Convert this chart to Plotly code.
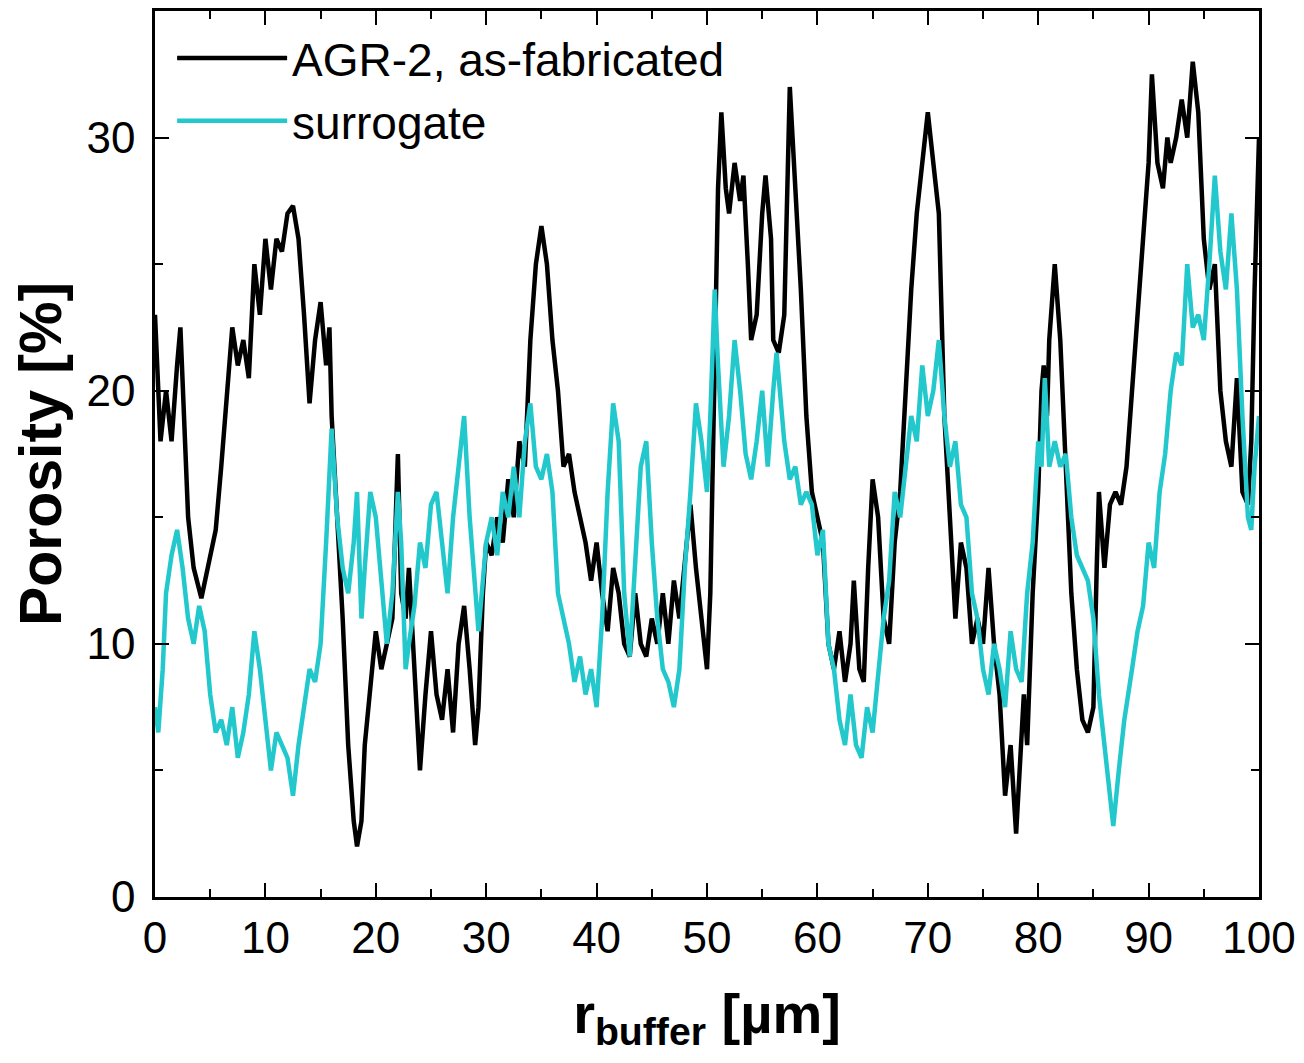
import plotly.graph_objects as go

# AGR-2, as-fabricated (black)
agr_x = [0, 0.5, 1, 1.5, 2, 2.3, 3, 3.5, 4.2, 5, 5.5, 6, 6.5, 7, 7.5, 8, 8.5, 9, 9.5, 10,
         10.5, 11, 11.5, 12, 12.5, 13, 13.5, 14, 14.5, 15, 15.5, 15.8, 16, 16.5, 17, 17.5, 18, 18.3, 18.7, 19,
         19.5, 20, 20.5, 21, 21.5, 22, 22.3, 22.7, 23, 23.5, 24, 24.5, 25, 25.5, 26, 26.5, 27, 27.5, 28, 28.5,
         29, 29.3, 29.7, 30, 30.5, 31, 31.5, 32, 32.5, 33, 33.5, 34, 34.5, 35, 35.5, 36, 36.5, 37, 37.5, 38,
         38.5, 39, 39.5, 40, 40.5, 41, 41.5, 42, 42.5, 43, 43.5, 44, 44.5, 45, 45.5, 46, 46.5, 47, 47.5, 48,
         48.5, 49, 49.5, 50, 50.3, 50.7, 51, 51.3, 51.7, 52, 52.5, 53, 53.3, 53.7, 54, 54.5, 55, 55.3, 55.8, 56,
         56.5, 57, 57.3, 57.5, 58, 58.5, 59, 59.5, 60, 60.5, 61, 61.5, 62, 62.5, 63, 63.3, 63.8, 64.2, 64.6, 65,
         65.5, 66, 66.5, 67, 67.5, 68, 68.5, 69, 69.5, 70, 70.5, 71, 71.5, 72, 72.5, 73, 73.5, 74, 74.5, 75,
         75.5, 76, 76.5, 77, 77.5, 78, 78.3, 78.7, 79, 79.5, 80, 80.3, 80.5, 80.8, 81, 81.5, 82, 82.5, 83, 83.5,
         84, 84.5, 85, 85.3, 85.5, 86, 86.5, 87, 87.5, 88, 88.5, 89, 89.5, 90, 90.3, 90.8, 91.3, 91.7, 92, 92.5,
         93, 93.5, 94, 94.5, 95, 95.5, 96, 96.5, 97, 97.5, 98, 98.5, 99, 99.3, 99.6, 100]
agr_y = [23, 18, 20, 18, 21, 22.5, 15, 13, 11.8, 13.5, 14.5, 17, 20, 22.5, 21, 22, 20.5, 25, 23, 26,
         24, 26, 25.5, 27, 27.3, 26, 23, 19.5, 22, 23.5, 21, 22.5, 19, 15, 11, 6, 3, 2, 3, 6,
         8.5, 10.5, 9, 10, 11, 17.5, 12, 11, 13, 9, 5, 8, 10.5, 8, 7, 9, 6.5, 10, 11.5, 9,
         6, 7.5, 12, 14, 13.5, 15, 14, 16.5, 15, 18, 17, 22, 25, 26.5, 25, 22, 20, 17, 17.5, 16,
         15, 14, 12.5, 14, 12, 10.5, 13, 12, 10, 9.5, 12, 10, 9.5, 11, 10, 12, 10, 12.5, 11, 13.5,
         15.5, 13, 11, 9, 12, 22, 28, 31, 28, 27, 29, 27.5, 28.5, 25, 22, 23, 27, 28.5, 26, 22,
         21.5, 23, 29, 32, 28, 24, 19, 16, 15, 14, 10, 9, 10.5, 8.5, 10, 12.5, 9, 8.5, 13, 16.5,
         15, 11, 10, 14, 16, 20, 24, 27, 29, 31, 29, 27, 19, 15, 11, 14, 13, 10, 11, 10,
         13, 10, 8, 4, 6, 2.5, 5, 8, 6, 12, 16, 20, 21, 19, 22, 25, 22, 17, 12, 9,
         7, 6.5, 7.5, 13, 16, 13, 15.5, 16, 15.5, 17, 20, 23, 26, 29, 32.5, 29, 28, 30, 29, 30,
         31.5, 30, 33, 31, 26, 24, 25, 20, 18, 17, 20.5, 16, 15.5, 18, 24, 30]

# surrogate (cyan)
sur_x = [0, 0.3, 0.7, 1, 1.5, 2, 2.5, 3, 3.5, 4, 4.5, 5, 5.5, 6, 6.5, 7, 7.5, 8, 8.5, 9,
         9.5, 10, 10.5, 11, 11.5, 12, 12.5, 13, 13.5, 14, 14.5, 15, 15.5, 16, 16.5, 17, 17.5, 18, 18.3, 18.7,
         19, 19.5, 20, 20.5, 21, 21.5, 22, 22.3, 22.7, 23, 23.5, 24, 24.5, 25, 25.5, 26, 26.5, 27, 27.5, 28,
         28.5, 29, 29.3, 30, 30.5, 31, 31.5, 32, 32.5, 33, 33.5, 34, 34.5, 35, 35.5, 36, 36.5, 37, 37.5, 38,
         38.5, 39, 39.5, 40, 40.5, 41, 41.5, 42, 42.5, 43, 43.5, 44, 44.5, 45, 45.5, 46, 46.5, 47, 47.5, 48,
         48.5, 49, 49.5, 50, 50.3, 50.7, 51, 51.5, 52, 52.5, 53, 53.5, 54, 54.5, 55, 55.5, 56, 56.3, 57, 57.5,
         58, 58.5, 59, 59.5, 60, 60.5, 61, 61.5, 62, 62.5, 63, 63.5, 64, 64.5, 65, 65.5, 66, 66.5, 67, 67.5,
         68, 68.5, 69, 69.5, 70, 70.5, 71, 71.5, 72, 72.5, 73, 73.5, 74, 74.5, 75, 75.5, 76, 76.5, 77, 77.5,
         78, 78.5, 79, 79.5, 80, 80.3, 80.6, 81, 81.5, 82, 82.5, 83, 83.5, 84, 84.5, 85, 85.5, 86, 86.5, 86.8,
         87.3, 87.8, 88.5, 89, 89.5, 90, 90.5, 91, 91.5, 92, 92.5, 93, 93.5, 94, 94.5, 95, 95.5, 96, 96.5, 97,
         97.5, 98, 98.5, 99, 99.3, 99.6, 100]
sur_y = [7.5, 6.5, 9, 12, 13.5, 14.5, 13, 11, 10, 11.5, 10.5, 8, 6.5, 7, 6, 7.5, 5.5, 6.5, 8, 10.5,
         9, 7, 5, 6.5, 6, 5.5, 4, 6, 7.5, 9, 8.5, 10, 14, 18.5, 15, 13, 12, 14, 16, 11,
         13, 16, 15, 12.5, 10, 12, 16, 14, 9, 10, 11.5, 14, 13, 15.5, 16, 14, 12, 15, 17, 19,
         15, 12, 10.5, 14, 15, 13.5, 16, 15, 17, 15, 18, 19.5, 17, 16.5, 17.5, 16, 12, 11, 10, 8.5,
         9.5, 8, 9, 7.5, 11, 16, 19.5, 18, 12, 9.5, 13, 17, 18, 14, 11, 9, 8.5, 7.5, 9, 13,
         16, 19.5, 18, 16, 19, 24, 21, 17, 19, 22, 20, 17.5, 16.5, 18, 20, 17, 20, 21.5, 18, 16.5,
         17, 15.5, 16, 15.5, 13.5, 14.5, 10, 9, 7, 6, 8, 6, 5.5, 7.5, 6.5, 9, 11, 12.5, 16, 15,
         17, 19, 18, 21, 19, 20, 22, 19, 17, 18, 15.5, 15, 12, 11, 9, 8, 10, 9, 7.5, 10.5,
         9, 8.5, 12, 14, 18, 17, 20.5, 17, 18, 17, 17.5, 15, 13.5, 13, 12.5, 11, 8, 6, 4, 2.8,
         5, 7, 9, 10.5, 11.5, 14, 13, 16, 17.5, 20, 21.5, 21, 25, 22.5, 23, 22, 25, 28.5, 25.5, 24,
         27, 24, 19, 15, 14.5, 17, 19]

x_ticks = [0, 10, 20, 30, 40, 50, 60, 70, 80, 90, 100]
y_ticks = [0, 10, 20, 30]

FONT = "Liberation Sans, Arial, sans-serif"

fig = go.Figure()
fig.add_trace(go.Scatter(x=agr_x, y=agr_y, mode="lines", name="AGR-2, as-fabricated",
                         line=dict(color="#000000", width=4.5)))
fig.add_trace(go.Scatter(x=sur_x, y=sur_y, mode="lines", name="surrogate",
                         line=dict(color="#22C8CC", width=4.5)))

axis_common = dict(
    showline=True, linecolor="black", linewidth=2.5, mirror="allticks",
    ticks="inside", ticklen=14, tickwidth=2, tickcolor="black",
    showgrid=False, zeroline=False,
    tickfont=dict(family=FONT, size=44, color="black"),
)

fig.update_xaxes(range=[0, 100], tickvals=x_ticks, ticktext=[str(v) for v in x_ticks],
                 minor=dict(ticks="inside", ticklen=8, tickwidth=2, tickcolor="black", dtick=5, tick0=0),
                 ticklabelstandoff=0,
                 title=dict(text="r<sub>buffer</sub> [µm]", font=dict(family=FONT, size=56, color="black", weight="bold"),
                            standoff=34),
                 **axis_common)
fig.update_yaxes(range=[0, 35], tickvals=y_ticks, ticktext=[str(v) for v in y_ticks],
                 minor=dict(ticks="inside", ticklen=8, tickwidth=2, tickcolor="black", dtick=5, tick0=0),
                 ticklabelstandoff=8,
                 title=dict(text="Porosity [%]", font=dict(family=FONT, size=59, color="black", weight="bold"),
                            standoff=6),
                 **axis_common)

fig.update_layout(
    width=1304, height=1063,
    margin=dict(l=155, r=44, t=8, b=166),
    paper_bgcolor="white", plot_bgcolor="white",
    showlegend=True,
    legend=dict(x=0.0155, y=0.988, xanchor="left", yanchor="top", bgcolor="rgba(0,0,0,0)",
                font=dict(family=FONT, size=46, color="black"), itemwidth=110, tracegroupgap=0),
)

fig.write_html("out.html")
